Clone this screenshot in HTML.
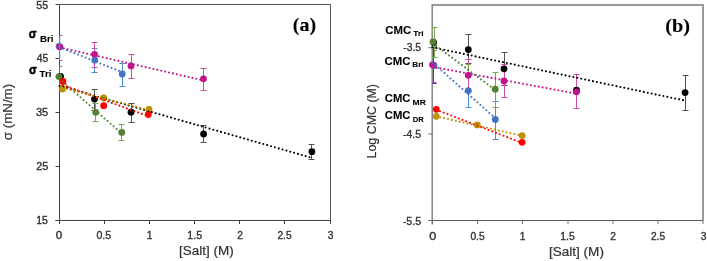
<!DOCTYPE html>
<html><head><meta charset="utf-8"><title>Chart</title>
<style>
html,body{margin:0;padding:0;background:#fff;}
body{width:707px;height:261px;overflow:hidden;font-family:"Liberation Sans", sans-serif;}
svg{display:block;will-change:transform;}
</style></head>
<body>
<svg width="707" height="261" viewBox="0 0 707 261">
<defs><clipPath id="cpL"><rect x="59.5" y="0" width="272" height="222"/></clipPath><clipPath id="cpR"><rect x="432.2" y="0" width="272" height="222"/></clipPath></defs>
<rect width="707" height="261" fill="#fff"/>
<line x1="59.5" y1="4.5" x2="330.5" y2="4.5" stroke="#555555" stroke-width="1" />
<line x1="330.5" y1="4.5" x2="330.5" y2="220.5" stroke="#555555" stroke-width="1" />
<line x1="59.5" y1="4.5" x2="59.5" y2="224.0" stroke="#404040" stroke-width="1" />
<line x1="55.5" y1="220.5" x2="330.5" y2="220.5" stroke="#404040" stroke-width="1" />
<line x1="55.5" y1="4.5" x2="59.5" y2="4.5" stroke="#404040" stroke-width="1" />
<line x1="55.5" y1="58.5" x2="59.5" y2="58.5" stroke="#404040" stroke-width="1" />
<line x1="55.5" y1="112.5" x2="59.5" y2="112.5" stroke="#404040" stroke-width="1" />
<line x1="55.5" y1="166.5" x2="59.5" y2="166.5" stroke="#404040" stroke-width="1" />
<line x1="55.5" y1="220.5" x2="59.5" y2="220.5" stroke="#404040" stroke-width="1" />
<text x="36.37" y="9.00" font-family='"Liberation Sans", sans-serif' font-size="10.20" font-weight="normal" textLength="11.84" lengthAdjust="spacingAndGlyphs" fill="#333333" stroke="#333333" stroke-width="0.35">55</text>
<text x="36.71" y="62.00" font-family='"Liberation Sans", sans-serif' font-size="10.20" font-weight="normal" textLength="11.44" lengthAdjust="spacingAndGlyphs" fill="#333333" stroke="#333333" stroke-width="0.35">45</text>
<text x="35.95" y="116.00" font-family='"Liberation Sans", sans-serif' font-size="10.20" font-weight="normal" textLength="12.29" lengthAdjust="spacingAndGlyphs" fill="#333333" stroke="#333333" stroke-width="0.35">35</text>
<text x="36.21" y="170.00" font-family='"Liberation Sans", sans-serif' font-size="10.20" font-weight="normal" textLength="12.04" lengthAdjust="spacingAndGlyphs" fill="#333333" stroke="#333333" stroke-width="0.35">25</text>
<text x="36.31" y="224.00" font-family='"Liberation Sans", sans-serif' font-size="10.20" font-weight="normal" textLength="11.66" lengthAdjust="spacingAndGlyphs" fill="#333333" stroke="#333333" stroke-width="0.35">15</text>
<line x1="59.5" y1="220.5" x2="59.5" y2="224.0" stroke="#404040" stroke-width="1" />
<line x1="104.5" y1="220.5" x2="104.5" y2="224.0" stroke="#404040" stroke-width="1" />
<line x1="149.5" y1="220.5" x2="149.5" y2="224.0" stroke="#404040" stroke-width="1" />
<line x1="194.5" y1="220.5" x2="194.5" y2="224.0" stroke="#404040" stroke-width="1" />
<line x1="239.5" y1="220.5" x2="239.5" y2="224.0" stroke="#404040" stroke-width="1" />
<line x1="284.5" y1="220.5" x2="284.5" y2="224.0" stroke="#404040" stroke-width="1" />
<line x1="330.5" y1="220.5" x2="330.5" y2="224.0" stroke="#404040" stroke-width="1" />
<text x="55.77" y="239.00" font-family='"Liberation Sans", sans-serif' font-size="10.20" font-weight="normal" textLength="6.52" lengthAdjust="spacingAndGlyphs" fill="#333333" stroke="#333333" stroke-width="0.35">0</text>
<text x="96.40" y="239.00" font-family='"Liberation Sans", sans-serif' font-size="10.20" font-weight="normal" textLength="14.64" lengthAdjust="spacingAndGlyphs" fill="#333333" stroke="#333333" stroke-width="0.35">0.5</text>
<text x="187.29" y="239.00" font-family='"Liberation Sans", sans-serif' font-size="10.20" font-weight="normal" textLength="14.76" lengthAdjust="spacingAndGlyphs" fill="#333333" stroke="#333333" stroke-width="0.35">1.5</text>
<text x="149.5" y="239" font-family='"Liberation Sans", sans-serif' font-size="10.2" font-weight="normal" text-anchor="middle" fill="#333333" stroke="#333333" stroke-width="0.35" >1</text>
<text x="240.0" y="239" font-family='"Liberation Sans", sans-serif' font-size="10.2" font-weight="normal" text-anchor="middle" fill="#333333" stroke="#333333" stroke-width="0.35" >2</text>
<text x="284.5" y="239" font-family='"Liberation Sans", sans-serif' font-size="10.2" font-weight="normal" text-anchor="middle" fill="#333333" stroke="#333333" stroke-width="0.35" >2.5</text>
<text x="330.5" y="239" font-family='"Liberation Sans", sans-serif' font-size="10.2" font-weight="normal" text-anchor="middle" fill="#333333" stroke="#333333" stroke-width="0.35" >3</text>
<text x="179.13" y="255.00" font-family='"Liberation Sans", sans-serif' font-size="12.00" font-weight="normal" textLength="54.63" lengthAdjust="spacingAndGlyphs" fill="#333333" stroke="#333333" stroke-width="0.2">[Salt] (M)</text>
<text transform="translate(12.08,140.25) rotate(-90)" font-family='"Liberation Sans", sans-serif' font-size="12.30" font-weight="normal" textLength="56.42" lengthAdjust="spacingAndGlyphs" fill="#333333" stroke="#333333" stroke-width="0.2">σ (mN/m)</text>
<text x="28.79" y="38.00" font-family='"Liberation Sans", sans-serif' font-size="13.00" font-weight="bold" textLength="7.73" lengthAdjust="spacingAndGlyphs" fill="#000000" stroke="#000000" stroke-width="0.5">σ</text>
<text x="39.94" y="42.00" font-family='"Liberation Sans", sans-serif' font-size="8.60" font-weight="bold" textLength="13.43" lengthAdjust="spacingAndGlyphs" fill="#000000" stroke="#000000" stroke-width="0.1">Bri</text>
<text x="28.88" y="74.00" font-family='"Liberation Sans", sans-serif' font-size="13.00" font-weight="bold" textLength="7.75" lengthAdjust="spacingAndGlyphs" fill="#000000" stroke="#000000" stroke-width="0.5">σ</text>
<text x="39.60" y="77.00" font-family='"Liberation Sans", sans-serif' font-size="8.60" font-weight="bold" textLength="11.78" lengthAdjust="spacingAndGlyphs" fill="#000000" stroke="#000000" stroke-width="0.1">Tri</text>
<text x="292.80" y="31.00" font-family='"Liberation Serif", serif' font-size="19.50" font-weight="bold" textLength="23.43" lengthAdjust="spacingAndGlyphs" fill="#000000" stroke="#000000" stroke-width="0.1">(a)</text>
<path d="M94.5 48.5V72.5M91.5 48.5H97.5M91.5 72.5H97.5" stroke="#4A90D0" stroke-width="1" fill="none" clip-path="url(#cpL)"/>
<path d="M122.5 63.5V86.5M119.5 63.5H125.5M119.5 86.5H125.5" stroke="#4A90D0" stroke-width="1" fill="none" clip-path="url(#cpL)"/>
<path d="M59.5 35.5V60.5M56.5 35.5H62.5M56.5 60.5H62.5" stroke="#D24AA8" stroke-width="1" fill="none" clip-path="url(#cpL)"/>
<path d="M94.5 42.5V67.5M91.5 42.5H97.5M91.5 67.5H97.5" stroke="#D24AA8" stroke-width="1" fill="none" clip-path="url(#cpL)"/>
<path d="M131.5 54.5V78.5M128.5 54.5H134.5M128.5 78.5H134.5" stroke="#D24AA8" stroke-width="1" fill="none" clip-path="url(#cpL)"/>
<path d="M203.5 68.5V90.5M200.5 68.5H206.5M200.5 90.5H206.5" stroke="#D24AA8" stroke-width="1" fill="none" clip-path="url(#cpL)"/>
<path d="M94.5 89.5V110.5M91.5 89.5H97.5M91.5 110.5H97.5" stroke="#505050" stroke-width="1" fill="none" clip-path="url(#cpL)"/>
<path d="M131.5 103.5V122.5M128.5 103.5H134.5M128.5 122.5H134.5" stroke="#505050" stroke-width="1" fill="none" clip-path="url(#cpL)"/>
<path d="M203.5 125.5V142.5M200.5 125.5H206.5M200.5 142.5H206.5" stroke="#505050" stroke-width="1" fill="none" clip-path="url(#cpL)"/>
<path d="M311.5 144.5V159.5M308.5 144.5H314.5M308.5 159.5H314.5" stroke="#505050" stroke-width="1" fill="none" clip-path="url(#cpL)"/>
<path d="M59.5 66.5V85.5M56.5 66.5H62.5M56.5 85.5H62.5" stroke="#70AD47" stroke-width="1" fill="none" clip-path="url(#cpL)"/>
<path d="M95.5 103.5V121.5M92.5 103.5H98.5M92.5 121.5H98.5" stroke="#70AD47" stroke-width="1" fill="none" clip-path="url(#cpL)"/>
<path d="M121.5 124.5V140.5M118.5 124.5H124.5M118.5 140.5H124.5" stroke="#70AD47" stroke-width="1" fill="none" clip-path="url(#cpL)"/>
<circle cx="60.5" cy="76.3" r="3.4" fill="#000000"/>
<circle cx="94.5" cy="99.1" r="3.4" fill="#000000"/>
<circle cx="131.0" cy="112.2" r="3.4" fill="#000000"/>
<circle cx="203.6" cy="134.0" r="3.4" fill="#000000"/>
<circle cx="311.9" cy="151.7" r="3.4" fill="#000000"/>
<circle cx="59.1" cy="46.3" r="3.4" fill="#4472C4"/>
<circle cx="59.9" cy="46.8" r="3.4" fill="#C0168C"/>
<circle cx="94.6" cy="54.4" r="3.4" fill="#C0168C"/>
<circle cx="131.0" cy="65.9" r="3.4" fill="#C0168C"/>
<circle cx="203.5" cy="78.8" r="3.4" fill="#C0168C"/>
<circle cx="94.8" cy="60.2" r="3.4" fill="#4472C4"/>
<circle cx="122.2" cy="74.0" r="3.4" fill="#4472C4"/>
<circle cx="58.9" cy="76.6" r="3.4" fill="#548235"/>
<circle cx="95.7" cy="112.3" r="3.4" fill="#548235"/>
<circle cx="121.8" cy="132.4" r="3.4" fill="#548235"/>
<circle cx="62.5" cy="89.0" r="3.4" fill="#BF9000"/>
<circle cx="103.7" cy="98.0" r="3.4" fill="#BF9000"/>
<circle cx="149.0" cy="109.5" r="3.4" fill="#BF9000"/>
<circle cx="63.0" cy="81.4" r="3.4" fill="#FF0000"/>
<circle cx="103.7" cy="105.7" r="3.4" fill="#FF0000"/>
<circle cx="148.3" cy="114.5" r="3.4" fill="#FF0000"/>
<line x1="59.5" y1="85.7" x2="312" y2="157.9" stroke="#000000" stroke-width="2.1" stroke-dasharray="0 4" stroke-linecap="round"/>
<line x1="59.9" y1="47.4" x2="203.3" y2="80.4" stroke="#C0168C" stroke-width="2.1" stroke-dasharray="0 4" stroke-linecap="round"/>
<line x1="59.5" y1="47.2" x2="122.4" y2="72.2" stroke="#4472C4" stroke-width="2.1" stroke-dasharray="0 4" stroke-linecap="round"/>
<line x1="59.5" y1="78.8" x2="121.8" y2="133.6" stroke="#548235" stroke-width="2.1" stroke-dasharray="0 4" stroke-linecap="round"/>
<line x1="63.0" y1="85.0" x2="148.5" y2="116.3" stroke="#FF0000" stroke-width="2.1" stroke-dasharray="0 4" stroke-linecap="round"/>
<line x1="62.5" y1="87.7" x2="149" y2="110.2" stroke="#BF9000" stroke-width="2.1" stroke-dasharray="0 4" stroke-linecap="round"/>
<line x1="59.7" y1="35.5" x2="59.7" y2="60.0" stroke="#4A90D0" stroke-width="1" />
<line x1="432.2" y1="5.0" x2="703.0" y2="5.0" stroke="#999999" stroke-width="2" />
<line x1="703.0" y1="4.0" x2="703.0" y2="220.5" stroke="#999999" stroke-width="2" />
<line x1="432.2" y1="4.0" x2="432.2" y2="224.5" stroke="#858585" stroke-width="1.5" />
<line x1="428.2" y1="220.5" x2="703.0" y2="220.5" stroke="#5a5a5a" stroke-width="1" />
<line x1="428.2" y1="47.7" x2="432.2" y2="47.7" stroke="#707070" stroke-width="1" />
<line x1="428.2" y1="134.0" x2="432.2" y2="134.0" stroke="#707070" stroke-width="1" />
<line x1="428.2" y1="220.5" x2="432.2" y2="220.5" stroke="#707070" stroke-width="1" />
<text x="403.29" y="51.00" font-family='"Liberation Sans", sans-serif' font-size="10.20" font-weight="normal" textLength="17.80" lengthAdjust="spacingAndGlyphs" fill="#333333" stroke="#333333" stroke-width="0.35">-3.5</text>
<text x="403.07" y="138.00" font-family='"Liberation Sans", sans-serif' font-size="10.20" font-weight="normal" textLength="18.02" lengthAdjust="spacingAndGlyphs" fill="#333333" stroke="#333333" stroke-width="0.35">-4.5</text>
<text x="402.73" y="225.00" font-family='"Liberation Sans", sans-serif' font-size="10.20" font-weight="normal" textLength="18.36" lengthAdjust="spacingAndGlyphs" fill="#333333" stroke="#333333" stroke-width="0.35">-5.5</text>
<line x1="432.5" y1="220.5" x2="432.5" y2="224.0" stroke="#707070" stroke-width="1" />
<line x1="477.5" y1="220.5" x2="477.5" y2="224.0" stroke="#707070" stroke-width="1" />
<line x1="522.5" y1="220.5" x2="522.5" y2="224.0" stroke="#707070" stroke-width="1" />
<line x1="568.0" y1="220.5" x2="568.0" y2="224.0" stroke="#707070" stroke-width="1" />
<line x1="613.0" y1="220.5" x2="613.0" y2="224.0" stroke="#707070" stroke-width="1" />
<line x1="658.0" y1="220.5" x2="658.0" y2="224.0" stroke="#707070" stroke-width="1" />
<line x1="703.0" y1="220.5" x2="703.0" y2="224.0" stroke="#707070" stroke-width="1" />
<text x="429.26" y="240.00" font-family='"Liberation Sans", sans-serif' font-size="10.20" font-weight="normal" textLength="7.01" lengthAdjust="spacingAndGlyphs" fill="#333333" stroke="#333333" stroke-width="0.35">0</text>
<text x="560.29" y="240.00" font-family='"Liberation Sans", sans-serif' font-size="10.20" font-weight="normal" textLength="14.51" lengthAdjust="spacingAndGlyphs" fill="#333333" stroke="#333333" stroke-width="0.35">1.5</text>
<text x="477.5" y="240" font-family='"Liberation Sans", sans-serif' font-size="10.2" font-weight="normal" text-anchor="middle" fill="#333333" stroke="#333333" stroke-width="0.35" >0.5</text>
<text x="522.5" y="240" font-family='"Liberation Sans", sans-serif' font-size="10.2" font-weight="normal" text-anchor="middle" fill="#333333" stroke="#333333" stroke-width="0.35" >1</text>
<text x="613.0" y="240" font-family='"Liberation Sans", sans-serif' font-size="10.2" font-weight="normal" text-anchor="middle" fill="#333333" stroke="#333333" stroke-width="0.35" >2</text>
<text x="658.0" y="240" font-family='"Liberation Sans", sans-serif' font-size="10.2" font-weight="normal" text-anchor="middle" fill="#333333" stroke="#333333" stroke-width="0.35" >2.5</text>
<text x="703.7" y="240" font-family='"Liberation Sans", sans-serif' font-size="10.2" font-weight="normal" text-anchor="middle" fill="#333333" stroke="#333333" stroke-width="0.35" >3</text>
<text x="548.98" y="256.00" font-family='"Liberation Sans", sans-serif' font-size="12.00" font-weight="normal" textLength="54.96" lengthAdjust="spacingAndGlyphs" fill="#333333" stroke="#333333" stroke-width="0.2">[Salt] (M)</text>
<text transform="translate(376.29,158.45) rotate(-90)" font-family='"Liberation Sans", sans-serif' font-size="12.00" font-weight="normal" textLength="74.45" lengthAdjust="spacingAndGlyphs" fill="#333333" stroke="#333333" stroke-width="0.2">Log CMC (M)</text>
<text x="385.24" y="34.00" font-family='"Liberation Sans", sans-serif' font-size="11.30" font-weight="bold" textLength="25.96" lengthAdjust="spacingAndGlyphs" fill="#000000" stroke="#000000" stroke-width="0.1">CMC</text>
<text x="413.37" y="36.00" font-family='"Liberation Sans", sans-serif' font-size="7.40" font-weight="bold" textLength="10.32" lengthAdjust="spacingAndGlyphs" fill="#000000" stroke="#000000" stroke-width="0.1">Tri</text>
<text x="384.59" y="65.00" font-family='"Liberation Sans", sans-serif' font-size="11.30" font-weight="bold" textLength="25.90" lengthAdjust="spacingAndGlyphs" fill="#000000" stroke="#000000" stroke-width="0.1">CMC</text>
<text x="412.35" y="67.00" font-family='"Liberation Sans", sans-serif' font-size="7.40" font-weight="bold" textLength="11.15" lengthAdjust="spacingAndGlyphs" fill="#000000" stroke="#000000" stroke-width="0.1">Bri</text>
<text x="384.81" y="102.00" font-family='"Liberation Sans", sans-serif' font-size="11.30" font-weight="bold" textLength="25.62" lengthAdjust="spacingAndGlyphs" fill="#000000" stroke="#000000" stroke-width="0.1">CMC</text>
<text x="412.55" y="105.00" font-family='"Liberation Sans", sans-serif' font-size="7.40" font-weight="bold" textLength="13.29" lengthAdjust="spacingAndGlyphs" fill="#000000" stroke="#000000" stroke-width="0.1">MR</text>
<text x="384.81" y="119.00" font-family='"Liberation Sans", sans-serif' font-size="11.30" font-weight="bold" textLength="25.62" lengthAdjust="spacingAndGlyphs" fill="#000000" stroke="#000000" stroke-width="0.1">CMC</text>
<text x="412.69" y="122.00" font-family='"Liberation Sans", sans-serif' font-size="7.40" font-weight="bold" textLength="10.96" lengthAdjust="spacingAndGlyphs" fill="#000000" stroke="#000000" stroke-width="0.1">DR</text>
<text x="665.18" y="32.00" font-family='"Liberation Serif", serif' font-size="19.50" font-weight="bold" textLength="24.82" lengthAdjust="spacingAndGlyphs" fill="#000000" stroke="#000000" stroke-width="0.1">(b)</text>
<path d="M468.5 34.5V63.5M465.5 34.5H471.5M465.5 63.5H471.5" stroke="#505050" stroke-width="1" fill="none" clip-path="url(#cpR)"/>
<path d="M504.5 52.5V85.5M501.5 52.5H507.5M501.5 85.5H507.5" stroke="#505050" stroke-width="1" fill="none" clip-path="url(#cpR)"/>
<path d="M685.5 75.5V110.5M682.5 75.5H688.5M682.5 110.5H688.5" stroke="#505050" stroke-width="1" fill="none" clip-path="url(#cpR)"/>
<path d="M468.5 73.5V107.5M465.5 73.5H471.5M465.5 107.5H471.5" stroke="#4A90D0" stroke-width="1" fill="none" clip-path="url(#cpR)"/>
<path d="M495.5 101.5V139.5M492.5 101.5H498.5M492.5 139.5H498.5" stroke="#4A90D0" stroke-width="1" fill="none" clip-path="url(#cpR)"/>
<path d="M433.5 50.5V82.5M430.5 50.5H436.5M430.5 82.5H436.5" stroke="#D24AA8" stroke-width="1" fill="none" clip-path="url(#cpR)"/>
<path d="M433.5 47.5V83.5M430.5 47.5H436.5M430.5 83.5H436.5" stroke="#3346c8" stroke-width="1" fill="none" clip-path="url(#cpR)"/>
<path d="M468.5 59.5V91.5M465.5 59.5H471.5M465.5 91.5H471.5" stroke="#D24AA8" stroke-width="1" fill="none" clip-path="url(#cpR)"/>
<path d="M504.5 64.5V97.5M501.5 64.5H507.5M501.5 97.5H507.5" stroke="#D24AA8" stroke-width="1" fill="none" clip-path="url(#cpR)"/>
<path d="M576.5 74.5V108.5M573.5 74.5H579.5M573.5 108.5H579.5" stroke="#D24AA8" stroke-width="1" fill="none" clip-path="url(#cpR)"/>
<path d="M434.5 27.5V57.5M431.5 27.5H437.5M431.5 57.5H437.5" stroke="#70AD47" stroke-width="1" fill="none" clip-path="url(#cpR)"/>
<path d="M495.5 72.5V107.5M492.5 72.5H498.5M492.5 107.5H498.5" stroke="#70AD47" stroke-width="1" fill="none" clip-path="url(#cpR)"/>
<line x1="468.3" y1="64.5" x2="468.3" y2="72" stroke="#70AD47" stroke-width="1" />
<line x1="465.8" y1="64.5" x2="470.8" y2="64.5" stroke="#70AD47" stroke-width="1" />
<circle cx="433.6" cy="42.4" r="3.4" fill="#000000"/>
<circle cx="468.3" cy="49.6" r="3.4" fill="#000000"/>
<circle cx="504.0" cy="68.8" r="3.4" fill="#000000"/>
<circle cx="576.5" cy="90.2" r="3.4" fill="#000000"/>
<circle cx="685.1" cy="92.6" r="3.4" fill="#000000"/>
<circle cx="433.0" cy="41.8" r="3.4" fill="#548235"/>
<circle cx="495.2" cy="89.2" r="3.4" fill="#548235"/>
<circle cx="434.0" cy="65.5" r="3.4" fill="#4472C4"/>
<circle cx="468.3" cy="90.6" r="3.4" fill="#4472C4"/>
<circle cx="495.3" cy="119.5" r="3.4" fill="#4472C4"/>
<circle cx="432.5" cy="64.8" r="3.4" fill="#C0168C"/>
<circle cx="468.3" cy="75.3" r="3.4" fill="#C0168C"/>
<circle cx="504.0" cy="81.0" r="3.4" fill="#C0168C"/>
<circle cx="576.5" cy="91.8" r="3.4" fill="#C0168C"/>
<circle cx="436.3" cy="109.3" r="3.4" fill="#FF0000"/>
<circle cx="522.1" cy="142.3" r="3.4" fill="#FF0000"/>
<circle cx="436.3" cy="116.3" r="3.4" fill="#BF9000"/>
<circle cx="477.3" cy="124.9" r="3.4" fill="#BF9000"/>
<circle cx="522.1" cy="135.6" r="3.4" fill="#BF9000"/>
<line x1="432.5" y1="47.3" x2="685" y2="100.6" stroke="#000000" stroke-width="2.1" stroke-dasharray="0 4" stroke-linecap="round"/>
<line x1="432.5" y1="66.9" x2="576.5" y2="93.7" stroke="#C0168C" stroke-width="2.1" stroke-dasharray="0 4" stroke-linecap="round"/>
<line x1="432.5" y1="62.5" x2="495.3" y2="118.2" stroke="#4472C4" stroke-width="2.1" stroke-dasharray="0 4" stroke-linecap="round"/>
<line x1="433.0" y1="43.5" x2="495.2" y2="90.0" stroke="#548235" stroke-width="2.1" stroke-dasharray="0 4" stroke-linecap="round"/>
<line x1="436.3" y1="109.8" x2="522.1" y2="142.9" stroke="#FF0000" stroke-width="2.1" stroke-dasharray="0 4" stroke-linecap="round"/>
<line x1="436.3" y1="116.4" x2="522.1" y2="135.7" stroke="#BF9000" stroke-width="2.1" stroke-dasharray="0 4" stroke-linecap="round"/>
</svg>
</body></html>
